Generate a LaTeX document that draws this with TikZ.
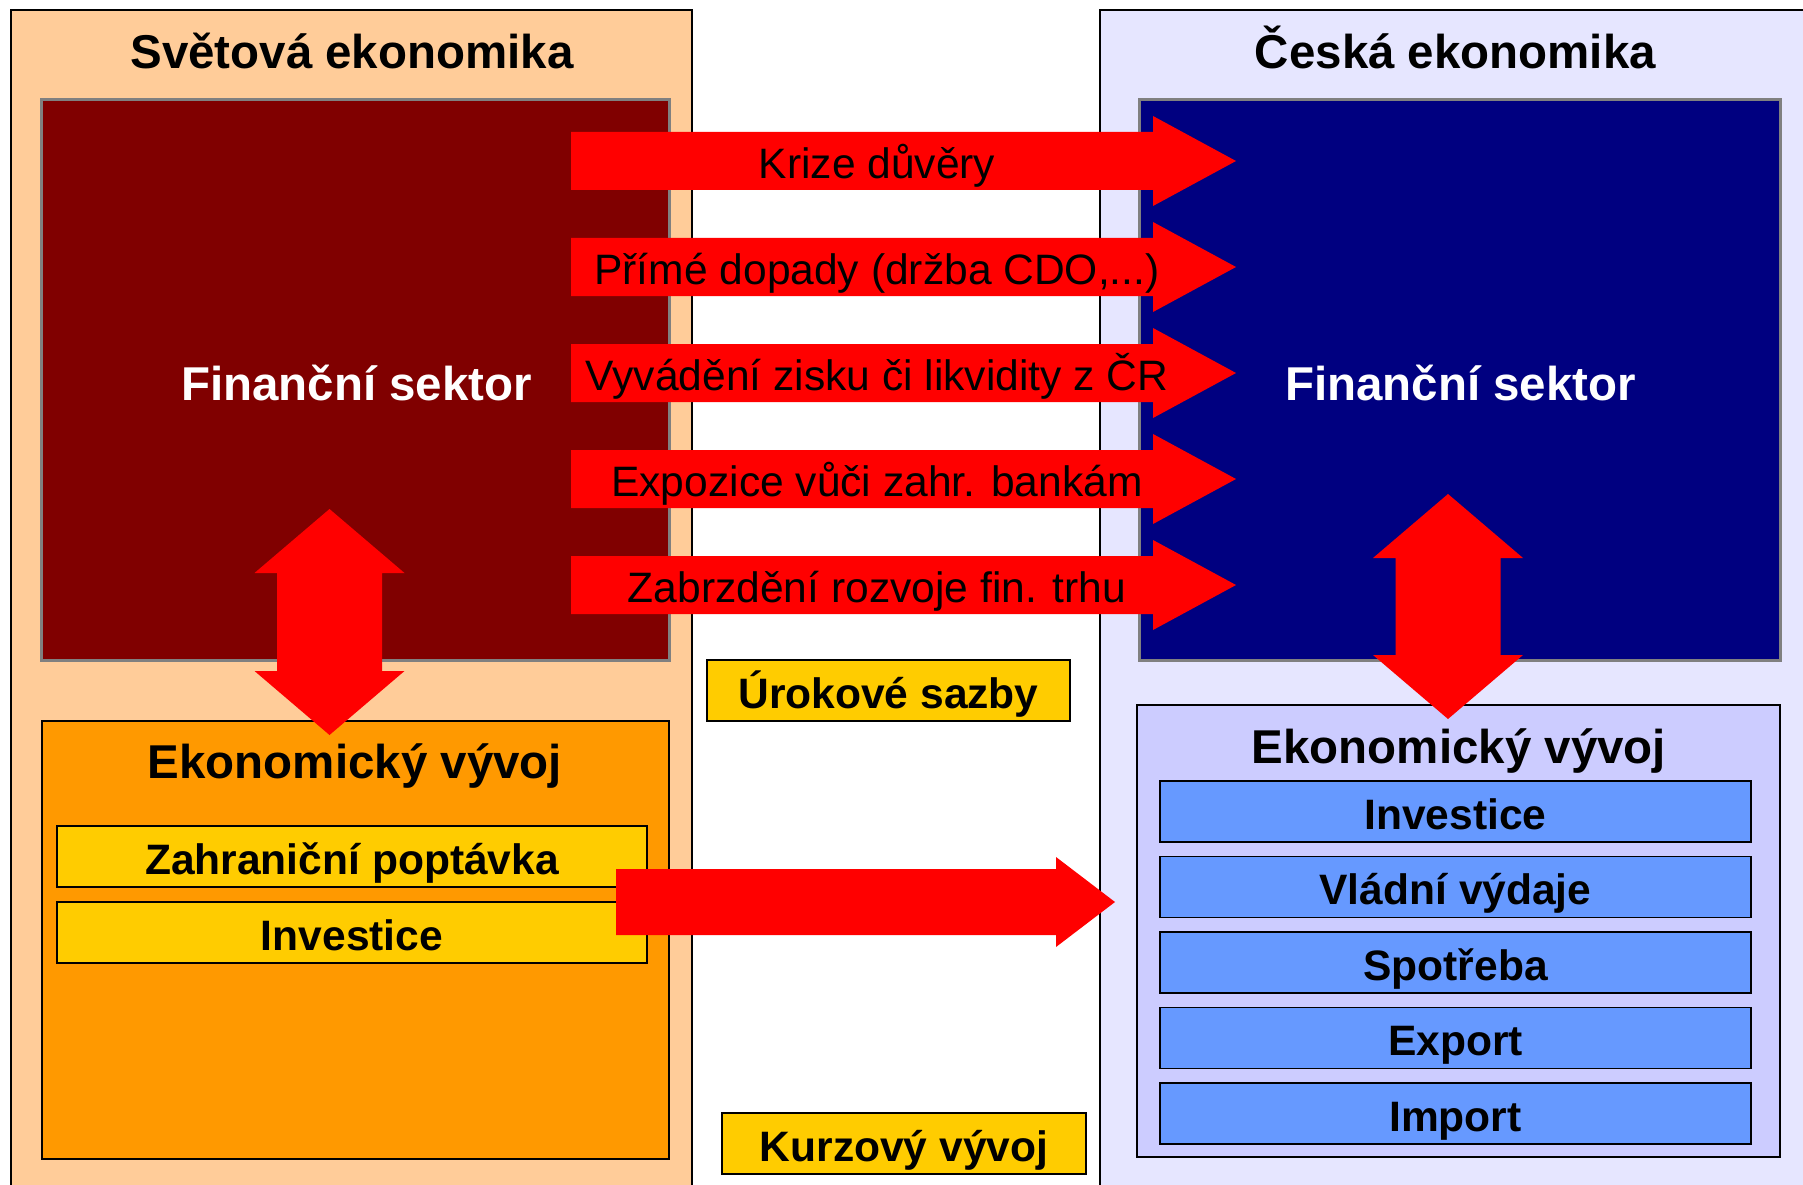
\documentclass[tikz,border=0pt]{standalone}
\usepackage{fontspec}
\setmainfont{Liberation Sans}
\definecolor{peach}{HTML}{FFCC99}
\definecolor{lav}{HTML}{E6E6FF}
\definecolor{dkred}{HTML}{800000}
\definecolor{navyb}{HTML}{000080}
\definecolor{orangeb}{HTML}{FF9900}
\definecolor{yellowb}{HTML}{FFCC00}
\definecolor{lilac}{HTML}{CCCCFF}
\definecolor{blueb}{HTML}{6699FF}
\definecolor{arrowred}{HTML}{FF0000}
\newcommand\myharrow[1]{\fill[arrowred] (571,#1-29) -- (1153,#1-29) -- (1153,#1-45) -- (1236,#1) -- (1153,#1+45) -- (1153,#1+29) -- (571,#1+29) -- cycle;}
\newcommand\myvarrow[3]{\fill[arrowred] (#1,#2) -- (#1+75,#2+64) -- (#1+52.5,#2+64) -- (#1+52.5,#3-64) -- (#1+75,#3-64) -- (#1,#3) -- (#1-75,#3-64) -- (#1-52.5,#3-64) -- (#1-52.5,#2+64) -- (#1-75,#2+64) -- cycle;}
\tikzset{
  bigtxt/.style={font=\bfseries\fontsize{13.5}{16}\selectfont, text height=0.34cm, text depth=0pt, inner sep=0pt},
  smalltxt/.style={font=\bfseries\fontsize{12.1}{14}\selectfont, text height=0.35cm, text depth=0pt, inner sep=0pt},
  arrowtxt/.style={font=\fontsize{12.1}{14}\selectfont, text height=0.35cm, text depth=0pt, inner sep=0pt},
  panel/.style={draw=black, line width=0.5pt, inner sep=0pt, outer sep=0pt},
  fin/.style={draw=gray, line width=0.85pt, inner sep=0pt, outer sep=0pt, minimum width=6.27cm, minimum height=5.6cm},
  itembox/.style={draw=black, line width=0.55pt, inner sep=0pt, outer sep=0pt, minimum height=0.61cm, smalltxt},
}
\begin{document}
\begin{tikzpicture}[x=0.01cm,y=-0.01cm]
\useasboundingbox (0,0) rectangle (1803,1185);
\fill[white] (0,0) rectangle (1803,1185);
\begin{scope}
\clip (0,0) rectangle (1803,1185);
\node[panel, fill=peach, minimum width=6.805cm, minimum height=11.9cm] (world) at (351.75,605) {};
\node[panel, fill=lav, minimum width=7.2cm, minimum height=11.9cm] (cz) at (1460,605) {};
\end{scope}
\node[bigtxt] (worldtitle) at (352,51) {Světová ekonomika};
\node[bigtxt] (cztitle) at (1455.5,51) {Česká ekonomika};
% financial sectors
\node[fin, fill=dkred] (finw) at (355.5,380) {};
\node[fin, fill=navyb, minimum width=6.4cm] (fincz) at (1460,380) {};
\node[bigtxt, text=white] (finwtxt) at (356.5,383) {Finanční sektor};
\node[bigtxt, text=white] (fincztxt) at (1460.5,383) {Finanční sektor};
% economic development
\node[panel, fill=orangeb, minimum width=6.27cm, minimum height=4.38cm] (ecow) at (355.5,940) {};
\node[bigtxt] (ecowtxt) at (355,761) {Ekonomický vývoj};
\node[itembox, fill=yellowb, minimum width=5.9cm] (zp) at (352,856.5) {Zahraniční poptávka};
\node[itembox, fill=yellowb, minimum width=5.9cm] (invw) at (352,932.5) {Investice};
\node[panel, fill=lilac, minimum width=6.43cm, minimum height=4.52cm] (ecocz) at (1458.5,931) {};
\node[bigtxt] (ecocztxt) at (1459,746) {Ekonomický vývoj};
\node[itembox, fill=blueb, minimum width=5.91cm] (invcz) at (1455.5,811.5) {Investice};
\node[itembox, fill=blueb, minimum width=5.91cm] (vv) at (1455.5,887) {Vládní výdaje};
\node[itembox, fill=blueb, minimum width=5.91cm] (sp) at (1455.5,962.5) {Spotřeba};
\node[itembox, fill=blueb, minimum width=5.91cm] (ex) at (1455.5,1038) {Export};
\node[itembox, fill=blueb, minimum width=5.91cm] (im) at (1455.5,1113.5) {Import};
% middle boxes
\node[itembox, fill=yellowb, minimum width=3.63cm] (uroky) at (888.5,690.5) {Úrokové sazby};
\node[itembox, fill=yellowb, minimum width=3.64cm] (kurz) at (904,1143.5) {Kurzový vývoj};
% arrows
\myharrow{161}
\myharrow{267}
\myharrow{373}
\myharrow{479}
\myharrow{585}
\node[arrowtxt] (a1) at (877,161) {Krize důvěry};
\node[arrowtxt] (a2) at (877,267) {Přímé dopady (držba CDO,...)};
\node[arrowtxt] (a3) at (877,373) {Vyvádění zisku či likvidity z ČR};
\node[arrowtxt] (a4) at (877,479) {Expozice vůči zahr. bankám};
\node[arrowtxt] (a5) at (877,585) {Zabrzdění rozvoje fin. trhu};
\myvarrow{329.5}{509}{735}
\myvarrow{1448}{494}{719}
\fill[arrowred] (616,869) -- (1056,869) -- (1056,857) -- (1115,902) -- (1056,947) -- (1056,935) -- (616,935) -- cycle;
\end{tikzpicture}
\end{document}
